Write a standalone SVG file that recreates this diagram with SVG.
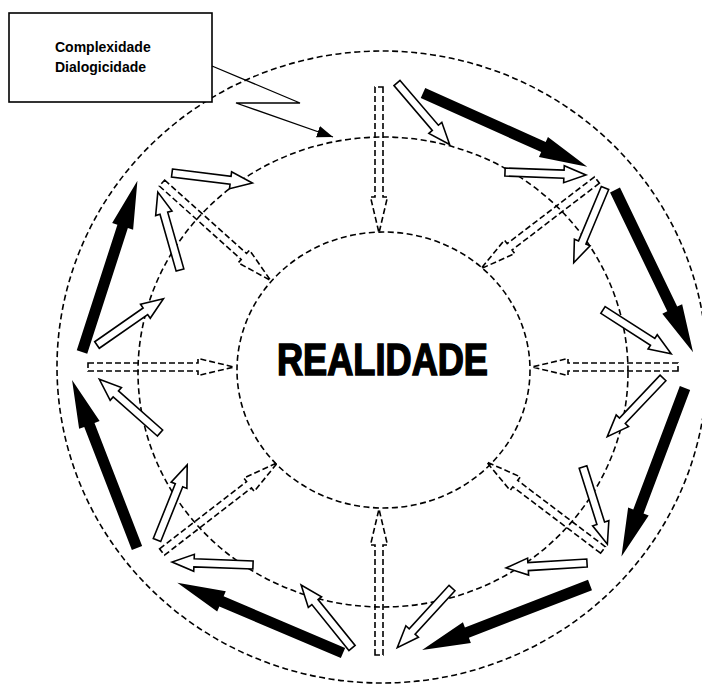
<svg xmlns="http://www.w3.org/2000/svg" xmlns:xlink="http://www.w3.org/1999/xlink" width="702" height="684" viewBox="0 0 702 684">
<style>
.ring{fill:none;stroke:#000;stroke-width:1.6;stroke-dasharray:6 3.5}
.blk{fill:#000;stroke:none}
.wht{fill:#fff;stroke:#000;stroke-width:1.6;stroke-linejoin:miter}
.dsh{fill:none;stroke:#000;stroke-width:1.6;stroke-dasharray:6 3}
.lbl{font-family:"Liberation Sans",Arial,sans-serif;font-weight:bold;font-size:14px;fill:#000}
.big{font-family:"Liberation Sans Narrow","Liberation Sans",Arial,sans-serif;font-weight:bold;font-size:45px;fill:#000;stroke:#000;stroke-width:1.6}
</style>
<defs>
<path id="ab" d="M0,-5.5 H132 V-11 L180,0 L132,11 V5.5 H0 Z"/>
<path id="aw" d="M0,-4 H59 V-8.5 L81,0 L59,8.5 V4 H0 Z"/>
<path id="ad" d="M0,-4 H110 V-8.5 L146,0 L110,8.5 V4 H0 Z"/>
<marker id="tri" viewBox="0 0 16 12" refX="16" refY="6" markerWidth="16" markerHeight="12" markerUnits="userSpaceOnUse" orient="auto">
<path d="M0,0 L16,6 L0,12 Z" fill="#000"/>
</marker>
</defs>
<rect width="702" height="684" fill="#fff"/>
<g id="rings">
<ellipse class="ring" cx="382" cy="367" rx="325" ry="316"/>
<ellipse class="ring" cx="383" cy="372" rx="245" ry="235"/>
<ellipse class="ring" cx="383.5" cy="370" rx="146.5" ry="138"/>
</g>
<g id="realidade">
<text class="big" x="382.5" y="375" text-anchor="middle" textLength="211" lengthAdjust="spacingAndGlyphs">REALIDADE</text>
</g>
<g id="box">
<rect x="9" y="13" width="203" height="89" fill="#fff" stroke="#000" stroke-width="1.6"/>
<text class="lbl" x="55" y="52">Complexidade</text>
<text class="lbl" x="55" y="72">Dialogicidade</text>
</g>
<g id="connectors">
<polyline points="212,66 300,103 236,103 333,137" fill="none" stroke="#000" stroke-width="1.3" marker-end="url(#tri)"/>
<use xlink:href="#ab" class="blk" transform="translate(423,93) rotate(24.15)"/>
<use xlink:href="#ab" class="blk" transform="translate(615,190) rotate(64.3)"/>
<use xlink:href="#ab" class="blk" transform="translate(685,388) rotate(110.67)"/>
<use xlink:href="#ab" class="blk" transform="translate(590,585) rotate(158.85)"/>
<use xlink:href="#ab" class="blk" transform="translate(343,653) rotate(203)"/>
<use xlink:href="#ab" class="blk" transform="translate(137,548) rotate(-111.15)"/>
<use xlink:href="#ab" class="blk" transform="translate(82,352) rotate(-72.07)"/>
<use xlink:href="#aw" class="wht" transform="translate(397,83) rotate(49.47)"/>
<use xlink:href="#aw" class="wht" transform="translate(505,172) rotate(2.1)"/>
<use xlink:href="#aw" class="wht" transform="translate(605,188) rotate(112.7)"/>
<use xlink:href="#aw" class="wht" transform="translate(603,310) rotate(32.7)"/>
<use xlink:href="#aw" class="wht" transform="translate(663,378) rotate(133.5)"/>
<use xlink:href="#aw" class="wht" transform="translate(583,467) rotate(72.5)"/>
<use xlink:href="#aw" class="wht" transform="translate(587,563) rotate(176.5)"/>
<use xlink:href="#aw" class="wht" transform="translate(452,588) rotate(132.5)"/>
<use xlink:href="#aw" class="wht" transform="translate(352,648) rotate(-128.9)"/>
<use xlink:href="#aw" class="wht" transform="translate(253,565) rotate(182.1)"/>
<use xlink:href="#aw" class="wht" transform="translate(157,540) rotate(-68.1)"/>
<use xlink:href="#aw" class="wht" transform="translate(160,433) rotate(-138.5)"/>
<use xlink:href="#aw" class="wht" transform="translate(97,345) rotate(-34.9)"/>
<use xlink:href="#aw" class="wht" transform="translate(180,270) rotate(-105.9)"/>
<use xlink:href="#aw" class="wht" transform="translate(172,173) rotate(7.1)"/>
<use xlink:href="#ad" class="dsh" transform="translate(379,87) rotate(90)"/>
<use xlink:href="#ad" class="dsh" transform="translate(597,180) rotate(142.6)"/>
<use xlink:href="#ad" class="dsh" transform="translate(678,367) rotate(180)"/>
<use xlink:href="#ad" class="dsh" transform="translate(603,550) rotate(-142.9)"/>
<use xlink:href="#ad" class="dsh" transform="translate(379,655) rotate(-90)"/>
<use xlink:href="#ad" class="dsh" transform="translate(162,552) rotate(-37.7)"/>
<use xlink:href="#ad" class="dsh" transform="translate(88,367) rotate(0)"/>
<use xlink:href="#ad" class="dsh" transform="translate(162,183) rotate(41.9)"/>
</g>
</svg>
